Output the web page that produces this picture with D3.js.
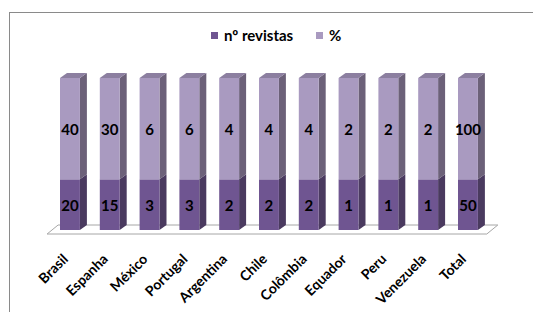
<!DOCTYPE html>
<html>
<head>
<meta charset="utf-8">
<script src="https://cdn.jsdelivr.net/npm/d3@7"></script>
<style>
  body { margin: 0; background: #fff; }
  text { font-family: Lato, "Open Sans", sans-serif; font-weight: bold; }
</style>
</head>
<body>
<svg id="chart" width="533" height="312"></svg>
<script>
const paises = ['Brasil', 'Espanha', 'México', 'Portugal', 'Argentina', 'Chile', 'Colômbia', 'Equador', 'Peru', 'Venezuela', 'Total']
const nRevistas = [20, 15, 3, 3, 2, 2, 2, 1, 1, 1, 50]
const percentagem = [40, 30, 6, 6, 4, 4, 4, 2, 2, 2, 100]
const series = ['nº revistas', '%']

const COR_FRENTE = ['#6f5591', '#a99ac0']
const COR_LADO = ['#4a3a5f', '#6c6179']
const COR_TOPO = ['#5d4879', '#8c7fa0']
const DX = 7, DY = -5

const svg = d3.select('#chart')

// moldura
svg.append('rect').attr('x', 9.5).attr('y', 12.5).attr('width', 600).attr('height', 400)
  .attr('fill', 'none').attr('stroke', '#8a8a8a')

const linhas = paises.map((p, i) => ({ pais: p, 'nº revistas': nRevistas[i], '%': percentagem[i] }))
const stack = d3.stack().keys(series).offset(d3.stackOffsetExpand)(linhas)

const x = d3.scaleBand().domain(paises).range([40.1, 497.8]).padding(0.5)
const y = d3.scaleLinear().domain([0, 1]).range([230, 78])

// chao
const chao = svg.append('g')
const xl = x.range()[0], xr = x.range()[1]
chao.append('path')
  .attr('d', `M${xl + 7},234 L${xl + 18},225 L${xr},225 L${xr - 11},234 Z`)
  .attr('fill', '#fff').attr('stroke', '#a6a6a6')

const w = x.bandwidth()
stack.forEach((s, k) => {
  const g = svg.append('g').attr('class', 'serie' + k)
  s.forEach((d, i) => {
    const x0 = x(paises[i]), y0 = y(d[0]), y1 = y(d[1])
    // lado
    g.append('path')
      .attr('d', `M${x0 + w},${y1} L${x0 + w + DX},${y1 + DY} L${x0 + w + DX},${y0 + DY} L${x0 + w},${y0} Z`)
      .attr('fill', COR_LADO[k])
    // topo
    if (k === series.length - 1) {
      g.append('path')
        .attr('d', `M${x0},${y1} L${x0 + DX},${y1 + DY} L${x0 + w + DX},${y1 + DY} L${x0 + w},${y1} Z`)
        .attr('fill', COR_TOPO[k])
    }
    // frente
    g.append('rect').attr('x', x0).attr('y', y1).attr('width', w).attr('height', y0 - y1)
      .attr('fill', COR_FRENTE[k])
    // valor
    g.append('text').text(d.data[series[k]])
      .attr('x', x0 + w / 2).attr('y', (y0 + y1) / 2)
      .attr('text-anchor', 'middle').attr('dominant-baseline', 'central')
      .style('font-size', '15px').style('fill', '#000')
  })
})

// rotulos do eixo
svg.append('g').selectAll('text').data(paises).join('text')
  .text(d => d)
  .attr('transform', d => `translate(${x(d) + w / 2 - 1},${260}) rotate(-45)`)
  .attr('text-anchor', 'end')
  .style('font-size', '14px').style('fill', '#000')

// legenda
const legenda = svg.append('g')
const posLeg = [211, 316]
series.forEach((s, k) => {
  legenda.append('rect').attr('x', posLeg[k]).attr('y', 32).attr('width', 7).attr('height', 7)
    .attr('fill', COR_FRENTE[k])
  legenda.append('text').text(s).attr('x', posLeg[k] + 13).attr('y', 40.5)
    .style('font-size', '15px').style('fill', '#000')
})
</script>
</body>
</html>
